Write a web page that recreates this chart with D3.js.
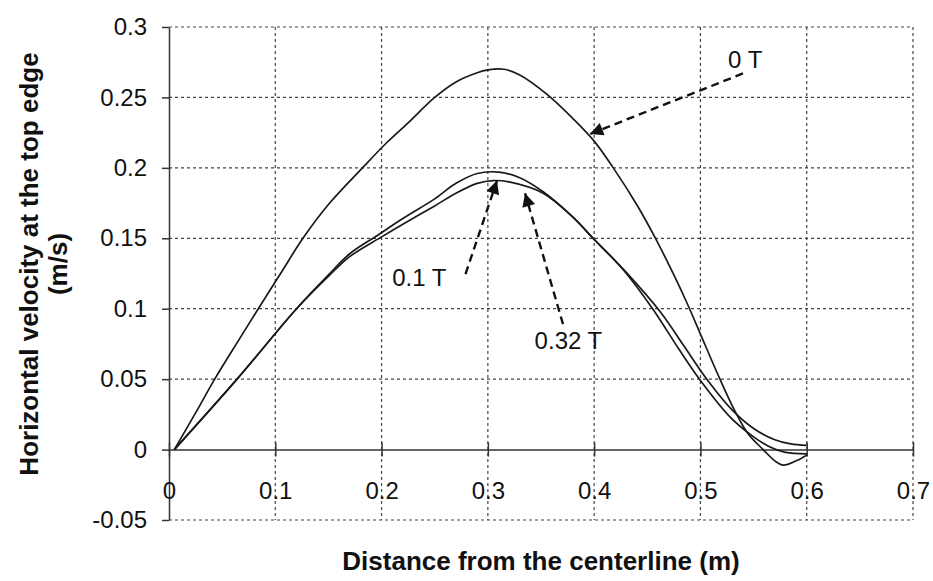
<!DOCTYPE html>
<html>
<head>
<meta charset="utf-8">
<script src="https://cdn.jsdelivr.net/npm/d3@7"></script>
<style>
  body { margin: 0; background: #fff; }
  svg { display: block; font-family: Arial, "Liberation Sans", sans-serif; }
</style>
</head>
<body>
<svg id="chart" width="933" height="581"></svg>
<script>
// tick values
var xTicks = [0, 0.1, 0.2, 0.3, 0.4, 0.5, 0.6, 0.7];
var yTicks = [-0.05, 0, 0.05, 0.1, 0.15, 0.2, 0.25, 0.3];

// 0 T
var x0T = [0.005, 0.025, 0.043, 0.065, 0.084, 0.105, 0.126, 0.15, 0.182, 0.205, 0.225, 0.25, 0.27, 0.29, 0.3, 0.315, 0.33, 0.356, 0.38, 0.4, 0.418, 0.44, 0.457, 0.475, 0.488, 0.5, 0.516, 0.532, 0.545, 0.559, 0.57, 0.578, 0.59, 0.6];
var y0T = [0, 0.026, 0.05, 0.077, 0.1, 0.125, 0.15, 0.174, 0.2, 0.218, 0.232, 0.25, 0.261, 0.2675, 0.2695, 0.27, 0.266, 0.252, 0.235, 0.219, 0.2, 0.174, 0.151, 0.124, 0.103, 0.082, 0.054, 0.028, 0.011, 0, -0.008, -0.011, -0.008, -0.004];

// 0.1 T
var x01T = [0.005, 0.064, 0.12, 0.15, 0.17, 0.196, 0.22, 0.25, 0.27, 0.29, 0.31, 0.33, 0.352, 0.38, 0.399, 0.427, 0.455, 0.48, 0.5, 0.528, 0.55, 0.565, 0.58, 0.6];
var y01T = [0, 0.05, 0.1, 0.124, 0.139, 0.152, 0.164, 0.178, 0.189, 0.196, 0.197, 0.193, 0.183, 0.165, 0.15, 0.128, 0.1, 0.071, 0.049, 0.023, 0.009, 0.002, -0.002, -0.003];

// 0.32 T
var x032T = [0.005, 0.064, 0.12, 0.15, 0.17, 0.2, 0.22, 0.25, 0.27, 0.29, 0.305, 0.32, 0.352, 0.38, 0.399, 0.43, 0.462, 0.485, 0.505, 0.53, 0.55, 0.57, 0.585, 0.6];
var y032T = [0, 0.05, 0.1, 0.123, 0.137, 0.151, 0.16, 0.173, 0.182, 0.189, 0.191, 0.19, 0.182, 0.165, 0.15, 0.126, 0.098, 0.073, 0.051, 0.028, 0.015, 0.007, 0.004, 0.003];

// callouts: label, text anchor point, arrow start, arrow tip (data units)
var calloutLabels = ['0 T', '0.1 T', '0.32 T'];
var calloutText = [[0.526, 0.2707], [0.21, 0.116], [0.344, 0.0712]];
var calloutFrom = [[0.54, 0.267], [0.279, 0.1246], [0.3707, 0.089]];
var calloutTo = [[0.396, 0.224], [0.3086, 0.191], [0.335, 0.182]];

var svg = d3.select('#chart');
var pLeft = 169, pRight = 913, pTop = 27, pBottom = 520;

var x = d3.scaleLinear().domain([0, 0.7]).range([pLeft, pRight]);
var y = d3.scaleLinear().domain([-0.05, 0.3]).range([pBottom, pTop]);

svg.append('rect').attr('width', 933).attr('height', 581).attr('fill', '#fff');

var defs = svg.append('defs');
defs.append('marker')
    .attr('id', 'head')
    .attr('viewBox', '0 0 10 10')
    .attr('refX', 10).attr('refY', 5)
    .attr('markerWidth', 6).attr('markerHeight', 5.5)
    .attr('markerUnits', 'strokeWidth')
    .attr('orient', 'auto')
  .append('path')
    .attr('d', 'M0,0 L10,5 L0,10 z')
    .attr('fill', '#111');

// grid
var grid = svg.append('g').attr('class', 'grid')
    .attr('stroke', '#444').attr('stroke-width', 1.2).attr('stroke-dasharray', '3,3');
grid.selectAll('line.h')
    .data(yTicks.filter(function(v) { return v !== 0; }))
  .enter().append('line')
    .attr('class', 'h')
    .attr('x1', pLeft).attr('x2', pRight)
    .attr('y1', function(v) { return y(v); })
    .attr('y2', function(v) { return y(v); });
grid.selectAll('line.v')
    .data(xTicks.slice(1))
  .enter().append('line')
    .attr('class', 'v')
    .attr('y1', pTop).attr('y2', pBottom)
    .attr('x1', function(v) { return x(v); })
    .attr('x2', function(v) { return x(v); });

// y axis
var yAxis = svg.append('g')
    .attr('transform', 'translate(' + pLeft + ',0)')
    .call(d3.axisLeft(y).tickValues(yTicks).tickSizeInner(7).tickSizeOuter(0).tickPadding(15)
      .tickFormat(function(v) { return String(+v.toFixed(2)); }));
yAxis.select('.domain').attr('stroke', '#333').attr('stroke-width', 1.5);
yAxis.selectAll('.tick line').attr('stroke', '#333').attr('stroke-width', 1.5);
yAxis.selectAll('.tick text').attr('font-size', 24).attr('fill', '#111')
    .attr('font-family', 'Arial, "Liberation Sans", sans-serif');

// x axis at y = 0
var xAxis = svg.append('g')
    .attr('transform', 'translate(0,' + y(0) + ')')
    .call(d3.axisBottom(x).tickValues(xTicks).tickSizeInner(0).tickSizeOuter(0).tickPadding(0)
      .tickFormat(function(v) { return String(+v.toFixed(1)); }));
xAxis.select('.domain').attr('stroke', '#333').attr('stroke-width', 1.5);
xAxis.selectAll('.tick line').attr('y1', -7).attr('y2', 7)
    .attr('stroke', '#333').attr('stroke-width', 1.5);
xAxis.selectAll('.tick text').attr('font-size', 24).attr('fill', '#111')
    .attr('y', 49).attr('dy', 0)
    .attr('font-family', 'Arial, "Liberation Sans", sans-serif');

// curves
var line = d3.line()
    .x(function(d) { return x(d[0]); })
    .y(function(d) { return y(d[1]); })
    .curve(d3.curveCatmullRom.alpha(0.5));

var series = [[x0T, y0T], [x01T, y01T], [x032T, y032T]];
series.forEach(function(s) {
  svg.append('path')
      .datum(d3.zip(s[0], s[1]))
      .attr('d', line)
      .attr('fill', 'none')
      .attr('stroke', '#1a1a1a')
      .attr('stroke-width', 1.7);
});

// callouts
calloutLabels.forEach(function(label, i) {
  svg.append('line')
      .attr('x1', x(calloutFrom[i][0])).attr('y1', y(calloutFrom[i][1]))
      .attr('x2', x(calloutTo[i][0])).attr('y2', y(calloutTo[i][1]))
      .attr('stroke', '#111')
      .attr('stroke-width', 2.4)
      .attr('stroke-dasharray', '8,5')
      .attr('marker-end', 'url(#head)');
  svg.append('text')
      .attr('x', x(calloutText[i][0]))
      .attr('y', y(calloutText[i][1]))
      .attr('font-size', 24)
      .attr('fill', '#111')
      .text(label);
});

// axis titles
svg.append('text')
    .attr('x', 541).attr('y', 570)
    .attr('text-anchor', 'middle')
    .attr('font-size', 26).attr('font-weight', 'bold').attr('fill', '#111')
    .text('Distance from the centerline (m)');

var yTitle = svg.append('text')
    .attr('transform', 'translate(0,264) rotate(-90)')
    .attr('text-anchor', 'middle')
    .attr('font-size', 26).attr('font-weight', 'bold').attr('fill', '#111');
yTitle.append('tspan').attr('x', 0).attr('y', 38).text('Horizontal velocity at the top edge');
yTitle.append('tspan').attr('x', 0).attr('y', 67).text('(m/s)');
</script>
</body>
</html>
